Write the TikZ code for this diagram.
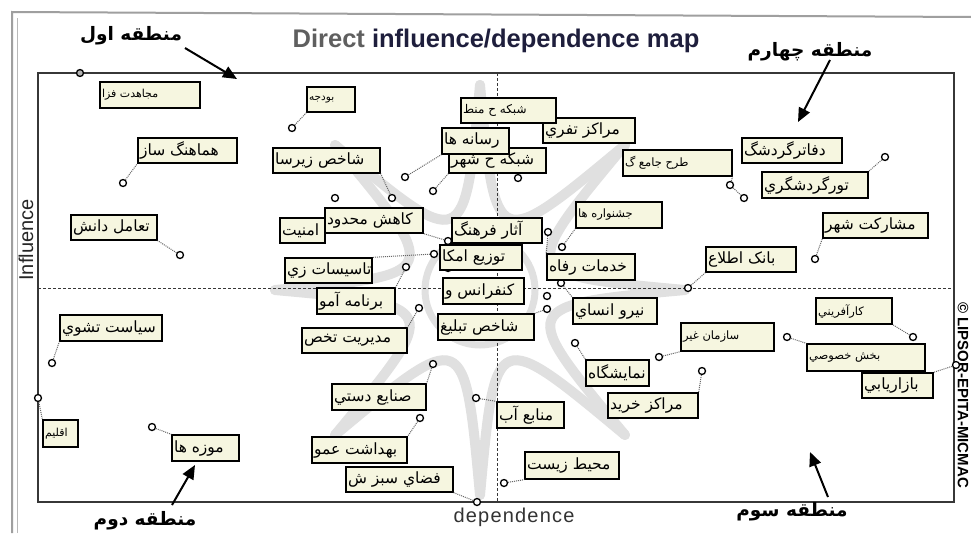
\documentclass[tikz,border=0pt]{standalone}
\usepackage{fontspec}
\setmainfont{Liberation Sans}
\newfontfamily\arabicfont[Script=Arabic]{DejaVu Sans}
\TeXXeTstate=1
\usetikzlibrary{arrows.meta,calc}
\definecolor{boxfill}{RGB}{246,246,224}
\definecolor{titlegray}{RGB}{95,95,95}
\definecolor{titlenavy}{RGB}{30,30,60}
\definecolor{wmgray}{RGB}{224,224,224}
\definecolor{framegray}{RGB}{55,55,55}
\tikzset{
  lbl/.style={draw=black, line width=1.3pt, fill=boxfill, inner sep=0pt},
  lbltxt/.style={anchor=west, inner sep=0pt},
  pt/.style={circle, draw=black, line width=1.3pt, fill=white, inner sep=0pt, minimum size=7pt},
  link/.style={densely dotted, line width=1pt, gray!80!black},
  zonearrow/.style={line width=2pt, -{Triangle[length=14pt,width=12pt]}},
  zone/.style={font=\arabicfont\bfseries\fontsize{18.5}{18.5}\selectfont, inner sep=0pt},
  wm/.style={wmgray, line width=10pt, line cap=round}
}
\newcommand\lbx[7]{%
  \node[lbl, minimum width={(#4-#2)*1pt}, minimum height={(#5-#3)*1pt}] (#1) at ({(#2+#4)/2},{(#3+#5)/2}) {};
  \node[lbltxt, font=\arabicfont\fontsize{#6}{#6}\selectfont] at ([xshift=2.5pt]#1.west) {#7};
}
\begin{document}
\begin{tikzpicture}[x=1pt,y=-1pt]
\useasboundingbox (0,0) rectangle (971,533);
\fill[white] (0,0) rectangle (971,533);
% watermark
\coordinate (c) at (480,290);
\foreach \a in {0,45,...,315}{
  \draw[wm] ($(c)+(\a:205)$) .. controls ($(c)+({\a+22.5}:40)$) .. ($(c)+({\a+45}:205)$);
}
\draw[wm, line width=7pt] (c) circle[radius=55];
% scan frame
\draw[gray!75, line width=2pt] (12,533) -- (12,12) -- (971,17);
\draw[gray!55, line width=1pt] (17,533) -- (17,18);
% plot frame and axes
\draw[framegray, line width=1.8pt] (38,73) rectangle (954,502);
\draw[framegray, line width=0.7pt, dash pattern=on 3pt off 2pt] (497,73) -- (497,502);
\draw[framegray, line width=0.7pt, dash pattern=on 3pt off 2pt] (38,288) -- (954,288);
% title and axis names
\node[font=\bfseries\fontsize{25.5}{25.5}\selectfont, inner sep=0pt] (title) at (496,41) {\textcolor{titlegray}{Direct} \textcolor{titlenavy}{influence/dependence map}};
\node[font=\fontsize{20}{20}\selectfont, rotate=90, inner sep=0pt, text=black!85] (infl) at (26,240) {Influence};
\node[font=\addfontfeature{LetterSpace=6}\fontsize{20}{20}\selectfont, inner sep=0pt, text=black!80] (dep) at (514,517) {dependence};
\node[font=\bfseries\fontsize{15}{15}\selectfont, rotate=-90, anchor=west, inner sep=0pt] (copy) at (963,302) {© LIPSOR-EPITA-MICMAC};
% zone labels and arrows
\node[zone] (z1) at (131,36) {\beginR منطقه اول\endR};
\node[zone] (z4) at (810,52) {\beginR منطقه چهارم\endR};
\node[zone] (z2) at (145,521) {\beginR منطقه دوم\endR};
\node[zone] (z3) at (792,512) {\beginR منطقه سوم\endR};
\coordinate (a1s) at (185,48); \coordinate (a1e) at (237,79);
\coordinate (a4s) at (830,60); \coordinate (a4e) at (798,122);
\coordinate (a2s) at (172,505); \coordinate (a2e) at (195,465);
\coordinate (a3s) at (828,497); \coordinate (a3e) at (810,452);
\draw[zonearrow] (a1s) -- (a1e);
\draw[zonearrow] (a4s) -- (a4e);
\draw[zonearrow] (a2s) -- (a2e);
\draw[zonearrow] (a3s) -- (a3e);
% points
\node[pt, fill=gray!60] (p1) at (80,73) {};
\node[pt] (p2) at (292,128) {};
\node[pt] (p3) at (123,183) {};
\node[pt] (p4) at (392,198) {};
\node[pt] (p5) at (405,177) {};
\node[pt] (p6) at (433,191) {};
\node[pt] (p7) at (518,178) {};
\node[pt] (p8) at (335,198) {};
\node[pt] (p9) at (180,255) {};
\node[pt] (p10) at (448,241) {};
\node[pt] (p11) at (434,254) {};
\node[pt] (p12) at (448,268) {};
\node[pt] (p13) at (406,267) {};
\node[pt] (p14) at (548,232) {};
\node[pt] (p15) at (562,247) {};
\node[pt] (p16) at (561,283) {};
\node[pt] (p17) at (547,296) {};
\node[pt] (p18) at (547,309) {};
\node[pt] (p19) at (419,308) {};
\node[pt] (p20) at (52,363) {};
\node[pt] (p21) at (433,364) {};
\node[pt] (p22) at (38,398) {};
\node[pt] (p23) at (152,427) {};
\node[pt] (p24) at (420,418) {};
\node[pt] (p25) at (477,502) {};
\node[pt] (p26) at (476,398) {};
\node[pt] (p27) at (504,483) {};
\node[pt] (p28) at (688,288) {};
\node[pt] (p29) at (815,259) {};
\node[pt] (p30) at (730,185) {};
\node[pt] (p31) at (744,198) {};
\node[pt] (p32) at (885,157) {};
\node[pt] (p33) at (913,337) {};
\node[pt] (p34) at (787,337) {};
\node[pt] (p35) at (956,365) {};
\node[pt] (p36) at (659,357) {};
\node[pt] (p37) at (702,371) {};
\node[pt] (p38) at (575,343) {};
% labels
\lbx{b1}{100}{82}{200}{108}{11}{\beginR مجاهدت فزا\endR}
\lbx{b2}{307}{87}{355}{112}{10.5}{\beginR بودجه\endR}
\lbx{b3}{138}{138}{237}{163}{15.5}{\beginR هماهنگ ساز\endR}
\lbx{b4}{273}{148}{380}{173}{15.5}{\beginR شاخص زيرسا\endR}
\lbx{b6}{543}{118}{635}{143}{15.5}{\beginR مراکز تفري\endR}
\lbx{b5}{461}{98}{556}{123}{12}{\beginR شبکه ح منط\endR}
\lbx{b8}{449}{148}{546}{173}{15.5}{\beginR شبکه ح شهر\endR}
\lbx{b7}{442}{128}{509}{154}{15.5}{\beginR رسانه ها\endR}
\lbx{b9}{71}{215}{157}{240}{15.5}{\beginR تعامل دانش\endR}
\lbx{b10}{280}{218}{325}{243}{15.5}{\beginR امنيت\endR}
\lbx{b11}{325}{208}{423}{233}{15.5}{\beginR کاهش محدود\endR}
\lbx{b12}{452}{218}{542}{243}{15.5}{\beginR آثار فرهنگ\endR}
\lbx{b13}{440}{245}{522}{270}{15.5}{\beginR توزيع امکا\endR}
\lbx{b14}{285}{258}{372}{283}{15.5}{\beginR تاسيسات زي\endR}
\lbx{b15}{317}{288}{395}{314}{15.5}{\beginR برنامه آمو\endR}
\lbx{b16}{443}{278}{524}{304}{15.5}{\beginR کنفرانس و\endR}
\lbx{b17}{438}{314}{534}{340}{15.5}{\beginR شاخص تبليغ\endR}
\lbx{b18}{302}{328}{407}{353}{15.5}{\beginR مديريت تخص\endR}
\lbx{b19}{60}{315}{162}{341}{15.5}{\beginR سياست تشوي\endR}
\lbx{b20}{43}{420}{78}{447}{11}{\beginR اقليم\endR}
\lbx{b21}{172}{435}{239}{461}{15.5}{\beginR موزه ها\endR}
\lbx{b22}{332}{384}{426}{410}{15.5}{\beginR صنايع دستي\endR}
\lbx{b23}{312}{437}{407}{463}{15.5}{\beginR بهداشت عمو\endR}
\lbx{b24}{346}{467}{453}{492}{15.5}{\beginR فضاي سبز ش\endR}
\lbx{b25}{497}{402}{564}{428}{15.5}{\beginR منابع آب\endR}
\lbx{b26}{525}{452}{619}{479}{15.5}{\beginR محيط زيست\endR}
\lbx{b27}{576}{202}{662}{228}{11.5}{\beginR جشنواره ها\endR}
\lbx{b28}{547}{254}{635}{280}{15.5}{\beginR خدمات رفاه\endR}
\lbx{b29}{573}{298}{657}{324}{15.5}{\beginR نيرو انساي\endR}
\lbx{b30}{706}{247}{796}{272}{15.5}{\beginR بانک اطلاع\endR}
\lbx{b31}{823}{213}{928}{238}{15.5}{\beginR مشارکت شهر\endR}
\lbx{b33}{742}{138}{842}{163}{15.5}{\beginR دفاترگردشگ\endR}
\lbx{b32}{762}{172}{868}{198}{15.5}{\beginR تورگردشگري\endR}
\lbx{b34}{623}{150}{732}{176}{11.5}{\beginR طرح جامع گ\endR}
\lbx{b35}{816}{298}{892}{324}{11.5}{\beginR کارآفريني\endR}
\lbx{b36}{681}{323}{774}{351}{11.5}{\beginR سازمان غير\endR}
\lbx{b37}{807}{344}{925}{371}{11.5}{\beginR بخش خصوصي\endR}
\lbx{b38}{862}{373}{933}{398}{15.5}{\beginR بازاريابي\endR}
\lbx{b39}{586}{360}{649}{386}{15.5}{\beginR نمايشگاه\endR}
\lbx{b40}{608}{393}{698}{418}{15.5}{\beginR مراکز خريد\endR}
% connectors
\draw[link] (p2) -- (b2.south west);
\draw[link] (p3) -- (b3.south west);
\draw[link] (p4) -- (b4.south east);
\draw[link] (p5) -- (b7.south west);
\draw[link] (p6) -- (b8.south west);
\draw[link] (p9) -- (b9.south east);
\draw[link] (p10) -- (b11.south east);
\draw[link] (p11) -- (b14.north east);
\draw[link] (p13) -- (b15.north east);
\draw[link] (p14) -- (b28.north west);
\draw[link] (p15) -- (b27.south west);
\draw[link] (p16) -- (b29.north west);
\draw[link] (p18) -- (b17.north east);
\draw[link] (p19) -- (b18.north east);
\draw[link] (p20) -- (b19.south west);
\draw[link] (p21) -- (b22.north east);
\draw[link] (p22) -- (b20.north west);
\draw[link] (p23) -- (b21.north west);
\draw[link] (p24) -- (b23.north east);
\draw[link] (p25) -- (b24.south east);
\draw[link] (p26) -- (b25.north west);
\draw[link] (p27) -- (b26.south west);
\draw[link] (p28) -- (b30.south west);
\draw[link] (p29) -- (b31.south west);
\draw[link] (p30) -- (b34.south east);
\draw[link] (p30) -- (p31);
\draw[link] (p32) -- (b32.north east);
\draw[link] (p33) -- (b35.south east);
\draw[link] (p34) -- (b37.north west);
\draw[link] (p35) -- (b38.north east);
\draw[link] (p36) -- (b36.south west);
\draw[link] (p37) -- (b40.north east);
\draw[link] (p38) -- (b39.north west);
\end{tikzpicture}
\end{document}
